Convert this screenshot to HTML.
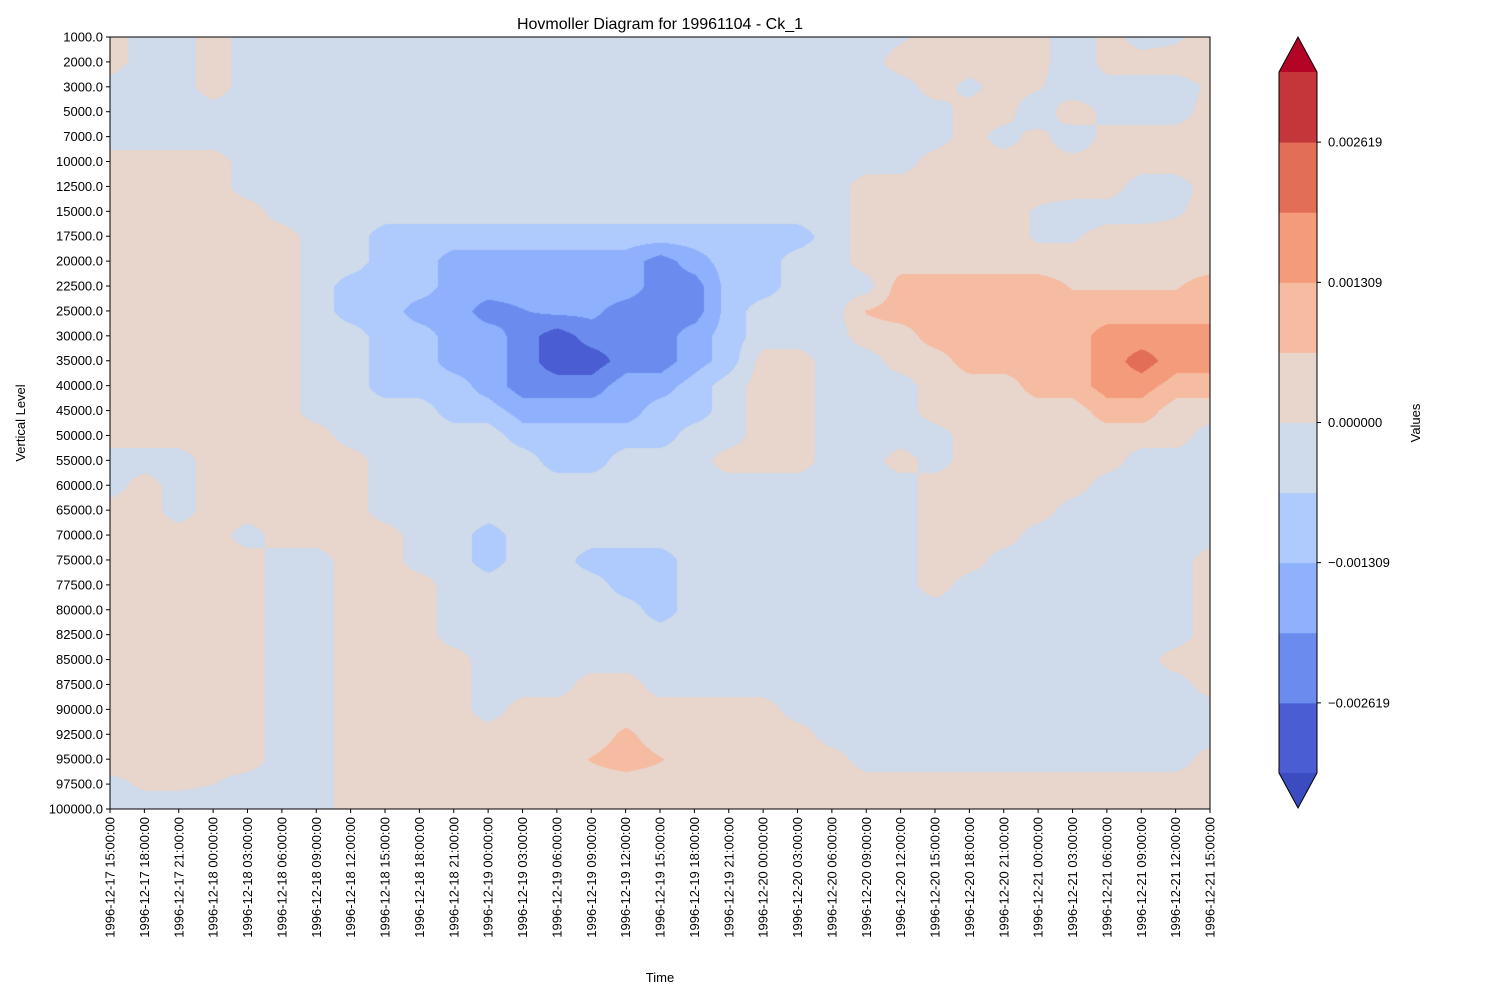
<!DOCTYPE html>
<html><head><meta charset="utf-8"><style>
body{margin:0;background:#fff;width:1500px;height:1000px;overflow:hidden;position:relative;font-family:"Liberation Sans","DejaVu Sans",sans-serif}
#cv{position:absolute;left:110px;top:37px}
#ov{position:absolute;left:0;top:0}
</style></head><body>
<canvas id="cv" width="1100" height="772"></canvas>
<svg id="ov" width="1500" height="1000"></svg>
<script>
// ---- data (values in units of 1e-4) ----
const times=["1996-12-17 15:00:00","1996-12-17 18:00:00","1996-12-17 21:00:00","1996-12-18 00:00:00","1996-12-18 03:00:00","1996-12-18 06:00:00","1996-12-18 09:00:00","1996-12-18 12:00:00","1996-12-18 15:00:00","1996-12-18 18:00:00","1996-12-18 21:00:00","1996-12-19 00:00:00","1996-12-19 03:00:00","1996-12-19 06:00:00","1996-12-19 09:00:00","1996-12-19 12:00:00","1996-12-19 15:00:00","1996-12-19 18:00:00","1996-12-19 21:00:00","1996-12-20 00:00:00","1996-12-20 03:00:00","1996-12-20 06:00:00","1996-12-20 09:00:00","1996-12-20 12:00:00","1996-12-20 15:00:00","1996-12-20 18:00:00","1996-12-20 21:00:00","1996-12-21 00:00:00","1996-12-21 03:00:00","1996-12-21 06:00:00","1996-12-21 09:00:00","1996-12-21 12:00:00","1996-12-21 15:00:00"];
const levels=["1000.0","2000.0","3000.0","5000.0","7000.0","10000.0","12500.0","15000.0","17500.0","20000.0","22500.0","25000.0","30000.0","35000.0","40000.0","45000.0","50000.0","55000.0","60000.0","65000.0","70000.0","75000.0","77500.0","80000.0","82500.0","85000.0","87500.0","90000.0","92500.0","95000.0","97500.0","100000.0"];
const cbTicks=[-0.002619,-0.001309,0.0,0.001309,0.002619];
const cbBounds=[-32.74,-26.19,-19.64,-13.09,-6.55,0,6.55,13.09,19.64,26.19,32.74];
const T=3,G=-3,L=-10,M=-16,B=-23,D=-30,S=10,O=16,R=23;
const values=[
[T,G,G,T,G,G,G,G,G,G,G,G,G,G,G,G,G,G,G,G,G,G,G,-1,T,T,T,T,-6,T,G,-1,T],
[T,G,G,T,G,G,G,G,G,G,G,G,G,G,G,G,G,G,G,G,G,G,G,T,T,T,T,T,-6,T,T,T,T],
[G,G,G,T,G,G,G,G,G,G,G,G,G,G,G,G,G,G,G,G,G,G,G,G,T,-2,T,1,-6,G,G,G,1],
[G,G,G,G,G,G,G,G,G,G,G,G,G,G,G,G,G,G,G,G,G,G,G,G,G,T,T,-6,6,G,G,G,T],
[G,G,G,G,G,G,G,G,G,G,G,G,G,G,G,G,G,G,G,G,G,G,G,G,G,T,G,T,-6,T,T,T,T],
[T,T,T,T,G,G,G,G,G,G,G,G,G,G,G,G,G,G,G,G,G,G,G,G,T,T,T,T,T,T,T,T,T],
[T,T,T,T,G,G,G,G,G,G,G,G,G,G,G,G,G,G,G,G,G,G,T,T,T,T,T,T,T,T,G,G,T],
[T,T,T,T,T,G,G,G,G,G,G,G,G,G,G,G,G,G,G,G,G,G,T,T,T,T,T,-1,G,G,G,-1,T],
[T,T,T,T,T,T,G,G,L,L,L,L,L,L,L,L,L,L,L,L,L,G,T,T,T,T,T,-1,-1,T,T,T,T],
[T,T,T,T,T,T,G,G,L,L,M,M,M,M,M,M,B,M,L,L,G,G,T,T,T,T,T,T,T,T,T,T,T],
[T,T,T,T,T,T,G,L,L,L,M,M,M,M,M,M,B,B,L,L,G,G,G,S,S,S,S,S,6,6,6,6,S],
[T,T,T,T,T,T,G,L,L,M,M,B,-20,-18,-18,B,B,B,L,G,G,G,7,S,S,S,S,S,S,S,S,S,S],
[T,T,T,T,T,T,G,G,L,L,M,M,B,D,B,B,B,M,L,G,G,G,T,T,S,S,S,S,S,O,O,O,O],
[T,T,T,T,T,T,G,G,L,L,M,M,B,D,D,B,B,M,L,T,T,G,G,T,T,S,S,S,S,O,R,O,O],
[T,T,T,T,T,T,G,G,L,L,L,M,B,B,B,M,M,L,G,T,T,G,G,G,T,T,T,S,S,O,O,S,S],
[T,T,T,T,T,T,G,G,G,G,L,L,M,M,M,M,L,L,G,T,T,G,G,G,T,T,T,T,T,S,S,T,T],
[T,T,T,T,T,T,T,G,G,G,G,G,L,L,L,L,L,G,G,T,T,G,G,G,G,T,T,T,T,T,T,T,G],
[G,G,G,T,T,T,T,T,G,G,G,G,G,L,L,G,G,G,T,T,T,G,G,T,G,T,T,T,T,T,G,G,G],
[G,T,G,T,T,T,T,T,G,G,G,G,G,G,G,G,G,G,G,G,G,G,G,G,T,T,T,T,T,G,G,G,G],
[T,T,G,T,T,T,T,T,G,G,G,G,G,G,G,G,G,G,G,G,G,G,G,G,T,T,T,T,G,G,G,G,G],
[T,T,T,T,G,T,T,T,T,G,G,L,G,G,G,G,G,G,G,G,G,G,G,G,T,T,T,G,G,G,G,G,G],
[T,T,T,T,T,G,G,T,T,G,G,L,G,G,L,L,L,G,G,G,G,G,G,G,T,T,G,G,G,G,G,G,T],
[T,T,T,T,T,G,G,T,T,T,G,G,G,G,G,L,L,G,G,G,G,G,G,G,T,G,G,G,G,G,G,G,T],
[T,T,T,T,T,G,G,T,T,T,G,G,G,G,G,G,L,G,G,G,G,G,G,G,G,G,G,G,G,G,G,G,T],
[T,T,T,T,T,G,G,T,T,T,G,G,G,G,G,G,G,G,G,G,G,G,G,G,G,G,G,G,G,G,G,G,T],
[T,T,T,T,T,G,G,T,T,T,T,G,G,G,G,G,G,G,G,G,G,G,G,G,G,G,G,G,G,G,G,T,T],
[T,T,T,T,T,G,G,T,T,T,T,G,G,G,T,T,G,G,G,G,G,G,G,G,G,G,G,G,G,G,G,G,T],
[T,T,T,T,T,G,G,T,T,T,T,G,T,T,T,T,T,T,T,T,G,G,G,G,G,G,G,G,G,G,G,G,G],
[T,T,T,T,T,G,G,T,T,T,T,T,T,T,T,8,T,T,T,T,T,G,G,G,G,G,G,G,G,G,G,G,G],
[T,T,T,T,T,G,G,T,T,T,T,T,T,T,7,S,7,T,T,T,T,T,G,G,G,G,G,G,G,G,G,G,T],
[-2,1,1,0,G,G,G,T,T,T,T,T,T,T,T,T,T,T,T,T,T,T,T,T,T,T,T,T,T,T,T,T,T],
[G,G,G,G,G,G,G,T,T,T,T,T,T,T,T,T,T,T,T,T,T,T,T,T,T,T,T,T,T,T,T,T,T]
];
const colors=["#3b4cc0","#4a5dd3","#6b8cee","#8eb0fd","#afcafc","#cfdaea","#e8d5cc","#f6bca2","#f39b7b","#e26e56","#c4363a","#b40426"];

// ---- axes ----
const PX=110,PY=37,PW=1100,PH=772;
const xScale=i=>PX+i*PW/(times.length-1);
const yScale=j=>PY+j*PH/(levels.length-1);
function binColor(v){let k=0;while(k<cbBounds.length&&v>=cbBounds[k])k++;return colors[k];}
function hex(c){return [parseInt(c.substr(1,2),16),parseInt(c.substr(3,2),16),parseInt(c.substr(5,2),16)];}

const cv=document.getElementById('cv'),ctx=cv.getContext('2d');
const img=ctx.createImageData(PW,PH);
const nc=times.length,nr=levels.length;
for(let py=0;py<PH;py++){
  const fy=py/PH*(nr-1);let r0=Math.floor(fy);if(r0>=nr-1)r0=nr-2;const ty=fy-r0;
  for(let px=0;px<PW;px++){
    const fx=px/PW*(nc-1);let c0=Math.floor(fx);if(c0>=nc-1)c0=nc-2;const tx=fx-c0;
    const v=(values[r0][c0]*(1-tx)+values[r0][c0+1]*tx)*(1-ty)+(values[r0+1][c0]*(1-tx)+values[r0+1][c0+1]*tx)*ty;
    const rgb=hex(binColor(v));const o=(py*PW+px)*4;
    img.data[o]=rgb[0];img.data[o+1]=rgb[1];img.data[o+2]=rgb[2];img.data[o+3]=255;
  }
}
ctx.putImageData(img,0,0);

const svg=document.getElementById('ov');const NS="http://www.w3.org/2000/svg";
function mk(tag,attrs,parent){const e=document.createElementNS(NS,tag);for(const k in attrs)e.setAttribute(k,attrs[k]);(parent||svg).appendChild(e);return e;}

const frame=mk('rect',{x:PX,y:PY,width:PW,height:PH,fill:'none',stroke:'#000','stroke-width':1});



times.forEach((t,i)=>{
  const x=xScale(i);
  const tk=mk('line',{x1:x,y1:PY+PH,x2:x,y2:PY+PH+4,stroke:'#000'});
  
  
  const tx=mk('text',{x:0,y:0,transform:`translate(${x+4.5},${PY+PH+8}) rotate(-90)`,'text-anchor':'end','font-size':'13px',fill:'#000'});
  tx.textContent=t;
  
  
});
levels.forEach((l,j)=>{
  const y=yScale(j);
  const tk=mk('line',{x1:PX-4,y1:y,x2:PX,y2:y,stroke:'#000'});
  
  
  const tx=mk('text',{x:PX-7,y:y+4.5,'text-anchor':'end','font-size':'13px',fill:'#000'});
  tx.textContent=l;
  
  
});
const title=mk('text',{x:660,y:29,'text-anchor':'middle','font-size':'16px'});title.textContent='Hovmoller Diagram for 19961104 - Ck_1';


const xl=mk('text',{x:660,y:982,'text-anchor':'middle','font-size':'13px'});xl.textContent='Time';


const yl=mk('text',{x:0,y:0,transform:'translate(25,423) rotate(-90)','text-anchor':'middle','font-size':'13px'});yl.textContent='Vertical Level';



const CX=1279,CW=38,CT=72,CB=773;
const cbScale=v=>CB-(v-cbBounds[0])/(cbBounds[cbBounds.length-1]-cbBounds[0])*(CB-CT);
for(let k=0;k<cbBounds.length-1;k++){
  const y1=cbScale(cbBounds[k+1]),y0=cbScale(cbBounds[k]);
  const r=mk('rect',{x:CX,y:y1,width:CW,height:y0-y1+0.5,fill:colors[k+1]});
  
  
}
const up=mk('polygon',{points:`${CX},${CT} ${CX+CW},${CT} ${CX+CW/2},${CT-35}`,fill:colors[colors.length-1]});


const dn=mk('polygon',{points:`${CX},${CB} ${CX+CW},${CB} ${CX+CW/2},${CB+35}`,fill:colors[0]});


const ol=mk('polygon',{points:`${CX},${CT} ${CX+CW/2},${CT-35} ${CX+CW},${CT} ${CX+CW},${CB} ${CX+CW/2},${CB+35} ${CX},${CB}`,fill:'none',stroke:'#000','stroke-width':1});


cbTicks.forEach(v=>{
  const y=cbScale(v*1e4);
  const tk=mk('line',{x1:CX+CW,y1:y,x2:CX+CW+4,y2:y,stroke:'#000'});
  
  
  const tx=mk('text',{x:CX+CW+11,y:y+4.5,'font-size':'13px'});
  tx.textContent=(v<0?'\u2212':'')+Math.abs(v).toFixed(6);
  
  
});
const cl=mk('text',{x:0,y:0,transform:'translate(1420,423) rotate(-90)','text-anchor':'middle','font-size':'13px'});cl.textContent='Values';


</script>
</body></html>
